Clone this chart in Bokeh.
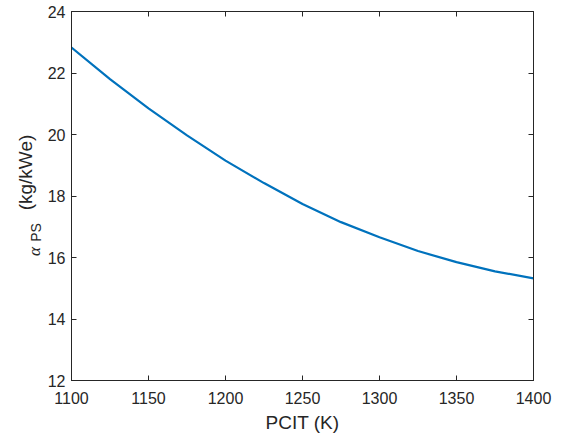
import math
from bokeh.plotting import figure
from bokeh.layouts import row
from bokeh.models import Range1d, FixedTicker, LinearAxis, Label
from bokeh.embed import file_html
from bokeh.resources import INLINE

# Data
pcit = [1100, 1125, 1150, 1175, 1200, 1225, 1250, 1275, 1300, 1325, 1350, 1375, 1400]
alpha_ps = [22.83, 21.80, 20.85, 19.97, 19.15, 18.42, 17.74, 17.15, 16.66, 16.21, 15.85, 15.55, 15.32]
x_ticks = [1100, 1150, 1200, 1250, 1300, 1350, 1400]
y_ticks = [12, 14, 16, 18, 20, 22, 24]

AX = "#262626"
FONT = "Liberation Sans"
H = 437
LW = 44  # width of the strip holding the y-axis label
FRAME_BOTTOM = 380  # pixel row of the plot frame's bottom edge

p = figure(width=564 - LW, height=H, output_backend="svg", toolbar_location=None,
           x_range=Range1d(1100, 1400), y_range=Range1d(12, 24),
           min_border_left=70 - LW, min_border_right=31, min_border_top=11,
           min_border_bottom=H - FRAME_BOTTOM)
p.background_fill_color = "white"
p.border_fill_color = "white"
p.outline_line_color = AX
p.xgrid.visible = False
p.ygrid.visible = False

p.line(pcit, alpha_ps, line_color="#0072BD", line_width=2.2)

def style(ax, ticks, labels=True):
    ax.ticker = FixedTicker(ticks=ticks)
    ax.axis_line_color = AX
    ax.major_tick_line_color = AX
    ax.major_tick_in = 5
    ax.major_tick_out = 0
    ax.minor_tick_line_color = None
    ax.major_label_text_font = FONT
    ax.major_label_text_color = AX
    if labels:
        ax.major_label_text_font_size = "16px"
    else:
        ax.major_label_text_font_size = "0px"
        ax.major_label_text_color = None
        ax.major_label_standoff = 0

xa = p.xaxis[0]
ya = p.yaxis[0]
style(xa, x_ticks)
style(ya, y_ticks)
xa.major_label_standoff = 11
ya.major_label_standoff = 6
xa.axis_label = "PCIT (K)"
xa.axis_label_text_font = FONT
xa.axis_label_text_font_size = "19px"
xa.axis_label_text_font_style = "normal"
xa.axis_label_text_color = AX
xa.axis_label_standoff = 5

top = LinearAxis()
style(top, x_ticks, labels=False)
p.add_layout(top, "above")
right = LinearAxis()
style(right, y_ticks, labels=False)
p.add_layout(right, "right")

# Left strip carrying the y-axis label: alpha_PS (kg/kWe)
lab = figure(width=LW, height=H, output_backend="svg", toolbar_location=None,
             x_axis_type=None, y_axis_type=None,
             min_border=0, min_border_left=0, min_border_right=0,
             min_border_top=0, min_border_bottom=0)
lab.outline_line_color = None
lab.xgrid.visible = False
lab.ygrid.visible = False
lab.background_fill_color = "white"
lab.border_fill_color = "white"

def ylab(text, xs, ys_top, size, font=FONT, style_="normal"):
    # the strip's frame is aligned with the main frame in the row layout
    lab.add_layout(Label(x=xs, y=FRAME_BOTTOM - ys_top, x_units="screen", y_units="screen",
                         text=text, angle=math.pi / 2,
                         text_align="center", text_baseline="middle",
                         text_font=font, text_font_size=size, text_font_style=style_,
                         text_color=AX))

ylab("\u03b1", 34.0, 251, "17px", font="Liberation Serif", style_="italic")
ylab("PS", 35.0, 232, "14px")
ylab("(kg/kWe)", 24.5, 172, "19px")

layout = row(lab, p, spacing=0)
open("out.html", "w").write(file_html(layout, INLINE))
